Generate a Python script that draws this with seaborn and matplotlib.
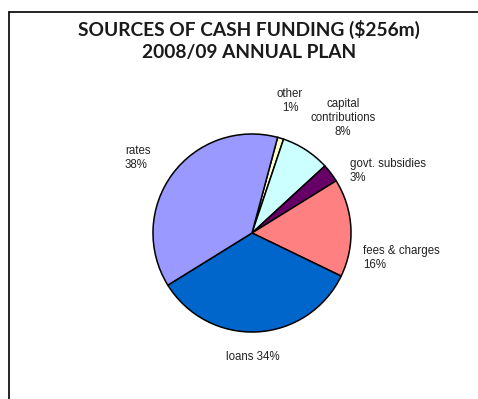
import matplotlib
matplotlib.use("Agg")
import matplotlib.pyplot as plt
from matplotlib.lines import Line2D
import seaborn as sns

# Funding sources, in clockwise order starting from the top
categories = ["other", "capital contributions", "govt. subsidies",
              "fees & charges", "loans", "rates"]
shares = [1, 8, 3, 16, 34, 38]
slice_colors = ["#FFFFCC", "#CCFFFF", "#660066", "#FF8080", "#0066CC", "#9999FF"]
label_texts = ["other\n1%", "capital\ncontributions\n8%", "govt. subsidies\n3%",
               "fees & charges\n16%", "loans 34%", "rates\n38%"]
title_lines = ["SOURCES OF CASH FUNDING ($256m)", "2008/09 ANNUAL PLAN"]

sns.set_theme(style="white")
plt.rcParams["font.family"] = ["Liberation Sans", "DejaVu Sans"]

W, H = 478, 399
fig = plt.figure(figsize=(W / 100, H / 100), dpi=100)
fig.patch.set_facecolor("white")

def px(x, y):
    return x / W, 1 - y / H

# outer frame: only the left and top edges fall inside the image
x0, y0 = px(8.5, 11.5)
for xs, ys in (([x0, x0], [y0, -0.1]), ([x0, 1.1], [y0, y0])):
    fig.add_artist(Line2D(xs, ys, transform=fig.transFigure,
                          color="black", linewidth=1.2))

# pie axes
cx, cy, r = 252, 233, 101
ax = fig.add_axes([(cx - r) / W, (H - cy - r) / H, 2 * r / W, 2 * r / H])
ax.pie(shares, colors=sns.color_palette(slice_colors), startangle=75,
       counterclock=False, radius=1,
       wedgeprops=dict(edgecolor="black", linewidth=1.1))
ax.set_aspect("equal")
ax.set_xlim(-1.02, 1.02)
ax.set_ylim(-1.02, 1.02)
ax.axis("off")

# title
title_kw = dict(ha="center", va="center", fontsize=13.8, fontweight="bold",
                family=["Lato", "DejaVu Sans"], color="#1a1a1a")
fig.text(*px(249, 29), title_lines[0], **title_kw)
fig.text(*px(249, 52.5), title_lines[1], **title_kw)

# slice labels
lab_kw = dict(fontsize=8.3, color="#222222", linespacing=1.25)
label_pos = [
    (290, 101, "center"),
    (343, 118, "center"),
    (350, 171, "left"),
    (363, 258, "left"),
    (253, 357, "center"),
    (125, 158, "left"),
]
for text, (x, y, ha) in zip(label_texts, label_pos):
    fig.text(*px(x, y), text, ha=ha, va="center",
             multialignment=ha, **lab_kw)

fig.savefig("out.png", dpi=100, facecolor="white")
